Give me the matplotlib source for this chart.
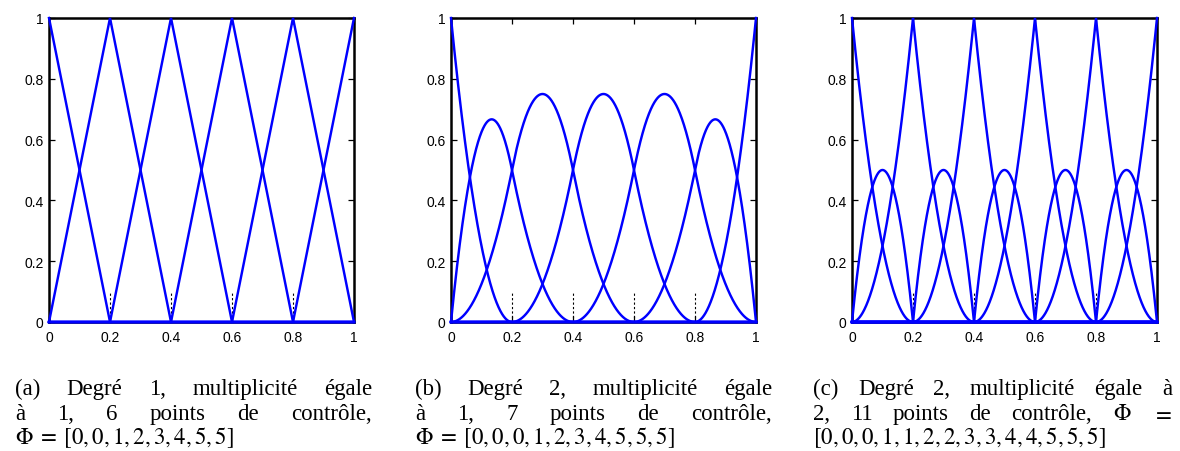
import numpy as np
import matplotlib
matplotlib.use('Agg')
import matplotlib.pyplot as plt
from matplotlib.transforms import IdentityTransform

# Constants
FIG_W, FIG_H, DPI = 1180, 452, 100
CURVE_COLOR = '#0000ff'

# Knot vectors (unnormalised, as written in the captions) and degrees
KNOTS_A = [0, 0, 1, 2, 3, 4, 5, 5]
KNOTS_B = [0, 0, 0, 1, 2, 3, 4, 5, 5, 5]
KNOTS_C = [0, 0, 0, 1, 1, 2, 2, 3, 3, 4, 4, 5, 5, 5]
DEGREES = [1, 2, 2]
KNOT_MAX = 5

TICKS = [0, 0.2, 0.4, 0.6, 0.8, 1]
TICK_LABELS = ['0', '0.2', '0.4', '0.6', '0.8', '1']

# Caption lines, split in words (last line of each caption is not justified)
CAPTION_A = [
	['(a)', 'Degré', '1,', 'multiplicité', 'égale'],
	['à', '1,', '6', 'points', 'de', 'contrôle,'],
	[r'$\Phi\;=\;[0,0,1,2,3,4,5,5]$'],
]
CAPTION_B = [
	['(b)', 'Degré', '2,', 'multiplicité', 'égale'],
	['à', '1,', '7', 'points', 'de', 'contrôle,'],
	[r'$\Phi\;=\;[0,0,0,1,2,3,4,5,5,5]$'],
]
CAPTION_C = [
	['(c)', 'Degré', '2,', 'multiplicité', 'égale', 'à'],
	['2,', '11', 'points', 'de', 'contrôle,', r'$\Phi$', r'$=$'],
	[r'$[0,0,0,1,1,2,2,3,3,4,4,5,5,5]$'],
]

# Layout in pixels (left, right, top, bottom of each axes; caption x range)
AXES_PX = [(49, 354), (451, 756), (852, 1157)]
AXES_TOP, AXES_BOTTOM = 19, 323
CAPTION_X = [(15, 372), (415, 772), (813, 1172)]
CAPTION_BASELINES = [395, 420, 444]

plt.rcParams['mathtext.fontset'] = 'stix'
plt.rcParams['font.family'] = ['Liberation Sans', 'DejaVu Sans']


def basis(i, p, knots, t):
	"""
	Cox-de Boor recursion for the i-th B-spline basis function of degree p
	"""
	if p == 0:
		left, right = knots[i], knots[i + 1]
		inside = (t >= left) & (t < right)
		# close the last non empty span so that the curve reaches the end point
		if right == knots[-1] and left < right:
			inside = inside | (t == right)
		return inside.astype(float)
	res = np.zeros_like(t)
	den1 = knots[i + p] - knots[i]
	if den1 > 0:
		res += (t - knots[i]) / den1 * basis(i, p - 1, knots, t)
	den2 = knots[i + p + 1] - knots[i + 1]
	if den2 > 0:
		res += (knots[i + p + 1] - t) / den2 * basis(i + 1, p - 1, knots, t)
	return res


def drawPanel(ax, knots, degree):
	t = np.round(np.linspace(0, KNOT_MAX, 2001), 9)
	count = len(knots) - degree - 1
	for i in range(count):
		ax.plot(t / KNOT_MAX, basis(i, degree, knots, t), color=CURVE_COLOR, lw=1.75,
				solid_joinstyle='miter', clip_on=False, zorder=3)

	# small dashed marks at the interior knots
	inner = [k / KNOT_MAX for k in sorted(set(knots)) if 0 < k < KNOT_MAX]
	ax.vlines(inner, 0, 0.1, colors='k', linestyles=(0, (2, 2)), lw=0.8, zorder=1)

	ax.set_xlim(0, 1)
	ax.set_ylim(0, 1)
	ax.set_xticks(TICKS)
	ax.set_xticklabels(TICK_LABELS)
	ax.set_yticks(TICKS)
	ax.set_yticklabels(TICK_LABELS)
	ax.tick_params(direction='in', length=4, width=0.9, top=True, right=True,
				   labelsize=10, pad=4)
	ax.tick_params(axis='x', pad=6)
	for sp in ax.spines.values():
		sp.set_linewidth(1.8)
		sp.set_zorder(2.5)


def drawCaption(fig, renderer, lines, x0, x1):
	for row, words in enumerate(lines):
		y = FIG_H - CAPTION_BASELINES[row]
		texts = [fig.text(0, y, w, transform=IdentityTransform(), ha='left', va='baseline',
						  family='Liberation Serif', fontsize=16.5) for w in words]
		widths = [tx.get_window_extent(renderer).width for tx in texts]
		if row < len(lines) - 1 and len(words) > 1:
			gap = (x1 - x0 - sum(widths)) / (len(words) - 1)
		else:
			gap = 6
		x = x0
		for tx, w in zip(texts, widths):
			tx.set_x(x)
			x += w + gap


fig = plt.figure(figsize=(FIG_W / DPI, FIG_H / DPI), dpi=DPI)
renderer = fig.canvas.get_renderer()

for (left, right), knots, degree in zip(AXES_PX, [KNOTS_A, KNOTS_B, KNOTS_C], DEGREES):
	ax = fig.add_axes([left / FIG_W, (FIG_H - AXES_BOTTOM) / FIG_H,
					   (right - left) / FIG_W, (AXES_BOTTOM - AXES_TOP) / FIG_H])
	drawPanel(ax, knots, degree)

for (x0, x1), caption in zip(CAPTION_X, [CAPTION_A, CAPTION_B, CAPTION_C]):
	drawCaption(fig, renderer, caption, x0, x1)

fig.savefig('out.png', dpi=DPI)
